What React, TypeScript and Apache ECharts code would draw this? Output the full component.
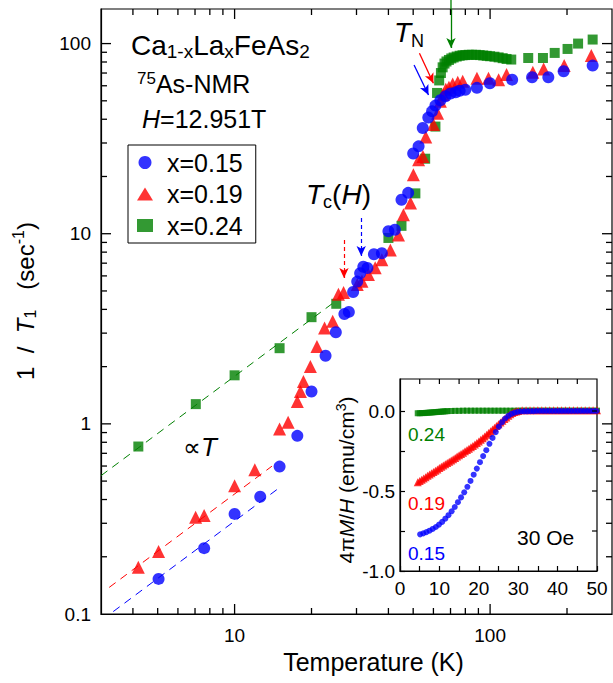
import { useEffect, useRef } from 'react';
import * as echarts from 'echarts';

const FONT = '"Liberation Sans", Arial, Helvetica, sans-serif';
const BLUE = '#0000ff';
const RED = '#ff0000';
const GREEN = '#008000';

// ---- main axes ----
const T_MIN = 3;
const T_MAX = 300;
const R_MIN = 0.1;
const R_MAX = 152;

const xMajorTicks = [10, 100];
const xMinorTicks = [4, 5, 6, 7, 8, 9, 20, 30, 40, 50, 60, 70, 80, 90, 200];
const yMajorTicks = [1, 10, 100];
const yMinorTicks = [0.2, 0.3, 0.4, 0.5, 0.6, 0.7, 0.8, 0.9, 2, 3, 4, 5, 6, 7, 8, 9, 20, 30, 40, 50, 60, 70, 80, 90];

// ---- inset axes ----
const INSET_T_MIN = 0;
const INSET_T_MAX = 50;
const INSET_M_MIN = -1;
const INSET_M_MAX = 0.2;
const insetXTicks = [5, 10, 15, 20, 25, 30, 35, 40, 45];
const insetYTicks = [-0.75, -0.5, -0.25, 0];

// ---- 1/T1 data [T (K), 1/T1 (1/s)] ----
const blueData = [
  [5.04, 0.153], [7.6, 0.222], [10, 0.336], [12.6, 0.414], [15, 0.596], [17.6, 0.865], [20, 1.48],
  [22.7, 2.28], [24.9, 3.03], [26.9, 3.78], [28, 3.88], [29.1, 4.94], [30.2, 5.6], [31, 6.2],
  [31.9, 6.7], [33.1, 6.6], [35.1, 7.8], [37.7, 7.9], [40, 10.3], [42.4, 10.5], [45, 15.1],
  [47.8, 16.4], [50, 26.4], [52.5, 28.8], [54.5, 36], [57.3, 40.8], [59.3, 44], [61.1, 47.2],
  [63.9, 50.3], [66.9, 52.8], [70, 54.6], [73.3, 55.4], [76, 56.5], [80, 57.2], [88.8, 58.5],
  [99.8, 61.8], [122, 64.6], [146, 66.5], [169, 66.5], [194, 71.5], [252, 76.6],
];
const redData = [
  [4.2, 0.176], [5.04, 0.213], [7.04, 0.323], [7.6, 0.33], [10, 0.472], [12, 0.573], [15, 0.94],
  [16.2, 1.02], [17.6, 1.31], [18.1, 1.48], [18.6, 1.67], [19.8, 2.0], [21, 2.55], [22.5, 3.19],
  [24.2, 3.46], [25.5, 4.8], [26.7, 4.9], [30.2, 5.4], [31.5, 5.62], [33.4, 6.1], [35.5, 6.62],
  [37.7, 7.3], [40.7, 8.2], [43.8, 9.84], [45.8, 12.6], [48.8, 14.5], [50.1, 20.4], [52.5, 24.5],
  [54.6, 25.5], [56, 32.3], [60, 37.5], [62.3, 43], [63.9, 49.7], [65.5, 54], [67.1, 57.5],
  [69, 59], [71.4, 61.2], [74.7, 62.6], [78.1, 63.3], [88.8, 65.7], [98.6, 65.7], [108, 64.6],
  [116, 68.7], [147, 70.6], [162, 73.5], [195, 76.6], [249, 86.5],
];
const greenData = [
  [4.2, 0.76], [7.05, 1.27], [10, 1.8], [15, 2.5], [20, 3.64], [25, 4.28], [40, 9.5], [45, 11],
  [51, 16.3], [55.7, 24.8], [61.1, 36.6], [62, 55], [63.2, 64], [64.2, 70], [65.2, 75], [66.3, 78.5],
  [67.5, 80.5], [69, 82], [70.5, 83.5], [72, 84.5], [74, 85.5], [76, 86.3], [78, 86.8], [80, 87],
  [82.5, 87.3], [85, 87.3], [88, 87.3], [91, 87], [94, 86.6], [97, 86.2], [100, 85.8], [104, 85.3],
  [108, 84.6], [112, 83.8], [116, 83], [121, 82.4], [141, 84], [161, 84], [179, 89.3], [201, 93.7],
  [221, 100], [252, 105],
];

// ---- linear-in-T guide lines (dashed) ----
const blueFit = [[3.35, 0.103], [14.7, 0.453]];
const redFit = [[3.23, 0.138], [14.0, 0.599]];
const greenFit = [[3.0, 0.534], [24.4, 4.34]];

// ---- annotation arrows in data coordinates ----
const arrowMarks = [
  { from: [70.3, 151.9], to: [70.3, 94.8], color: GREEN, dashed: false },
  { from: [52.9, 88.9], to: [60.0, 61.8], color: RED, dashed: false },
  { from: [50.4, 77.1], to: [57.4, 53.6], color: BLUE, dashed: false },
  { from: [26.8, 9.26], to: [26.8, 5.85], color: RED, dashed: true },
  { from: [31.3, 12.1], to: [31.3, 7.63], color: BLUE, dashed: true },
];

// ---- inset: 4πM/H vs T ----
const insetBlue = [
  [5.1, -0.771], [5.9, -0.765], [6.7, -0.757], [7.5, -0.748], [8.3, -0.737], [9.1, -0.725],
  [9.9, -0.71], [10.7, -0.693], [11.5, -0.673], [12.3, -0.651], [13.1, -0.627], [13.9, -0.6],
  [14.7, -0.57], [15.5, -0.54], [16.3, -0.508], [17.1, -0.474], [17.9, -0.437], [18.7, -0.398],
  [19.5, -0.36], [20.3, -0.32], [21.1, -0.282], [21.9, -0.245], [22.7, -0.205], [23.5, -0.168],
  [24.3, -0.132], [25.1, -0.098], [25.9, -0.07], [26.7, -0.047], [27.5, -0.03], [28.3, -0.018],
  [29.1, -0.01], [29.9, -0.005], [30.7, -0.003], [31.5, -0.002], [32.3, -0.002], [33.1, -0.001],
  [33.9, -0.001], [34.7, 0], [35.5, 0], [36.3, 0], [37.1, 0], [37.9, 0], [38.7, 0], [39.5, 0],
  [40.3, 0], [41.1, 0], [41.9, 0], [42.7, 0], [43.5, 0], [44.3, 0], [45.1, 0], [45.9, 0],
  [46.7, 0], [47.5, 0], [48.3, 0], [49.1, 0], [49.9, 0],
];
const insetRed = [
  [4.5, -0.445], [5, -0.437], [5.5, -0.43], [6, -0.422], [6.5, -0.414], [7, -0.405], [7.5, -0.397],
  [8, -0.389], [8.5, -0.381], [9, -0.373], [9.5, -0.365], [10, -0.357], [10.5, -0.349], [11, -0.341],
  [11.5, -0.333], [12, -0.325], [12.5, -0.317], [13, -0.309], [13.5, -0.301], [14, -0.293],
  [14.5, -0.285], [15, -0.277], [15.5, -0.269], [16, -0.261], [16.5, -0.252], [17, -0.244],
  [17.5, -0.236], [18, -0.227], [18.5, -0.218], [19, -0.209], [19.5, -0.2], [20, -0.19],
  [20.5, -0.18], [21, -0.17], [21.5, -0.16], [22, -0.149], [22.5, -0.138], [23, -0.127],
  [23.5, -0.116], [24, -0.105], [24.5, -0.094], [25, -0.083], [25.5, -0.072], [26, -0.061],
  [26.5, -0.05], [27, -0.04], [27.5, -0.03], [28, -0.021], [28.5, -0.013], [29, -0.007],
  [29.5, -0.003], [30, 0], [31, 0.004], [32, 0.004], [33, 0.004], [34, 0.004], [35, 0.004],
  [36, 0.004], [37, 0.004], [38, 0.004], [39, 0.004], [40, 0.004], [41, 0.004], [42, 0.004],
  [43, 0.004], [44, 0.004], [45, 0.004], [46, 0.004], [47, 0.004], [48, 0.004], [49, 0.004], [50, 0.004],
];
const insetGreen = [
  [4.5, -0.014], [5, -0.014], [5.5, -0.013], [6, -0.013], [6.5, -0.012], [7, -0.011], [7.5, -0.01],
  [8, -0.009], [8.5, -0.008], [9, -0.007], [9.5, -0.006], [10, -0.005], [10.5, -0.004], [11, -0.003],
  [11.5, -0.002], [12, -0.001], [13, 0], [14, 0.001], [15, 0.001], [16, 0.002], [17, 0.002],
  [18, 0.002], [19, 0.002], [20, 0.002], [21, 0.002], [22, 0.002], [23, 0.002], [24, 0.002],
  [25, 0.002], [26, 0.002], [27, 0.002], [28, 0.002], [29, 0.002], [30, 0.002], [31, 0.002],
  [32, 0.002], [33, 0.002], [34, 0.002], [35, 0.002], [36, 0.002], [37, 0.002], [38, 0.002],
  [39, 0.002], [40, 0.002], [41, 0.002], [42, 0.002], [43, 0.002], [44, 0.002], [45, 0.002],
  [46, 0.002], [47, 0.002], [48, 0.002], [49, 0.002], [50, 0.002],
];

const legendNames = ['x=0.15', 'x=0.19', 'x=0.24'];

function rs(size: number, italic = false, extra: Record<string, unknown> = {}) {
  return { fontSize: size, fontFamily: FONT, fontStyle: italic ? 'italic' : 'normal', fill: '#000', ...extra };
}

function textEl(x: number, y: number, text: string, rich: Record<string, unknown>, opts: Record<string, unknown> = {}) {
  const { align = 'left', rotation = 0, fill = '#000', size = 20 } = opts as any;
  return {
    type: 'text', x, y, rotation, z: 100, silent: true,
    style: { text, rich, fontSize: size, fontFamily: FONT, fill, textAlign: align, textVerticalAlign: 'middle' },
  };
}

function logLabel(v: number) {
  const l = Math.log10(v);
  const r = Math.round(l);
  if (Math.abs(l - r) > 1e-6) return '';
  return r < 0 ? '0.1' : String(Math.pow(10, r));
}

function insetYLabel(v: number) {
  const k = Math.round(v * 2);
  if (Math.abs(v * 2 - k) > 1e-6 || v > 0.01) return '';
  return (k / 2).toFixed(1);
}

const AX_LINE = { color: '#000', width: 1.2 };

function seg(x1: number, y1: number, x2: number, y2: number, stroke: string, w: number) {
  return { type: 'line', z: 100, silent: true, shape: { x1, y1, x2, y2 }, style: { stroke, lineWidth: w } };
}

// Texts, plus tick marks and the arrow stem placed through the chart's own scales (convertToPixel).
function buildGraphics(chart: any) {
  const px = (a: number, v: number) => chart.convertToPixel({ xAxisIndex: a }, v) as number;
  const py = (a: number, v: number) => chart.convertToPixel({ yAxisIndex: a }, v) as number;
  const out: any[] = [
    textEl(131, 45, '{m|Ca}{s|1-x}{m|La}{s|x}{m|FeAs}{s|2}', { m: rs(28), s: rs(19, false, { padding: [12, 0, 0, 0] }) }),
    textEl(137, 84, '{p|75}{m|As-NMR}', { p: rs(17, false, { padding: [0, 0, 12, 0] }), m: rs(25) }),
    textEl(142, 119, '{i|H}{m|=12.951T}', { i: rs(25, true), m: rs(25) }),
    textEl(394, 32, '{i|T}{s|N}', { i: rs(28, true), s: rs(18, false, { padding: [17, 0, 0, 0] }) }),
    textEl(306, 194, '{i|T}{s|c}{m|(}{i|H}{m|)}', { i: rs(28, true), m: rs(28), s: rs(18, false, { padding: [16, 0, 0, 0] }) }),
    textEl(183, 447, '{m|∝}{i|T}', { m: rs(25), i: rs(26, true) }),
    textEl(373.5, 662, 'Temperature (K)', {}, { align: 'center', size: 25 }),
    textEl(25, 301, '{m|1  /  }{i|T}{s|1}{m|   (sec}{p|-1}{m|)}', {
      m: rs(24), i: rs(24, true), s: rs(16, false, { padding: [10, 0, 0, 0] }), p: rs(16, false, { padding: [0, 0, 13, 0] }),
    }, { align: 'center', rotation: Math.PI / 2 }),
    textEl(346, 480, '{m|4π}{i|M}{m|/}{i|H}{m| (emu/cm}{p|3}{m|)}', {
      m: rs(21), i: rs(21, true), p: rs(14, false, { padding: [0, 0, 10, 0] }),
    }, { align: 'center', rotation: Math.PI / 2 }),
    textEl(408, 434, '0.24', {}, { fill: GREEN, size: 19 }),
    textEl(408, 503, '0.19', {}, { fill: RED, size: 19 }),
    textEl(408, 553, '0.15', {}, { fill: BLUE, size: 19 }),
    textEl(517, 537, '30 Oe', {}, { size: 21 }),
  ];

  // main frame ticks (log minor ticks at 2..9 of each decade)
  const yb = py(0, R_MIN);
  const yt = py(0, R_MAX);
  const xl = px(0, T_MIN);
  const xr = px(0, T_MAX);
  const xs = [...xMajorTicks.map((v) => [v, 10]), ...xMinorTicks.map((v) => [v, 6])];
  const ys = [...yMajorTicks.map((v) => [v, 10]), ...yMinorTicks.map((v) => [v, 6])];
  xs.forEach(([v, len]) => {
    const x = px(0, v);
    out.push(seg(x, yb, x, yb - len, '#000', 1.3));
    out.push(seg(x, yt, x, yt + len, '#000', 1.3));
  });
  ys.forEach(([v, len]) => {
    const y = py(0, v);
    out.push(seg(xl, y, xl + len, y, '#000', 1.3));
    out.push(seg(xr, y, xr - len, y, '#000', 1.3));
  });

  // inset top / right mirror ticks
  const it = py(1, INSET_M_MAX);
  const ir = px(1, INSET_T_MAX);
  insetXTicks.forEach((v) => {
    const x = px(1, v);
    out.push(seg(x, it, x, it + 5, '#000', 1.2));
  });
  insetYTicks.forEach((v) => {
    const y = py(1, v);
    out.push(seg(ir, y, ir - 5, y, '#000', 1.2));
  });

  // green T_N arrow stem above the frame
  const sx = px(0, arrowMarks[0].from[0]);
  const sy = py(0, arrowMarks[0].from[1]);
  out.push(seg(sx, 0, sx, sy, GREEN, 1.3));
  return out;
}

function buildOption() {
  const labelStyle = { fontSize: 19, fontFamily: FONT, color: '#000' };
  const line = { show: true, onZero: false, lineStyle: AX_LINE };
  const tick = { show: true, inside: true, length: 5, lineStyle: { color: '#000', width: 1.2 } };
  return {
    animation: false,
    backgroundColor: '#fff',
    grid: [
      { left: 101, top: 9, width: 511, height: 605, show: true, borderColor: '#000', borderWidth: 1.2, backgroundColor: 'transparent', containLabel: false, outerBoundsMode: 'none' },
      { left: 400, top: 379, width: 197, height: 192, show: true, borderColor: '#000', borderWidth: 1.2, backgroundColor: '#fff', containLabel: false, outerBoundsMode: 'none' },
    ],
    legend: {
      orient: 'vertical', left: 128, top: 145, padding: [5, 13, 5, 9], itemGap: 6.5, itemWidth: 16, itemHeight: 13,
      borderColor: '#000', borderWidth: 1, backgroundColor: '#fff', selectedMode: false,
      textStyle: { fontSize: 25, fontFamily: FONT, color: '#000', padding: [0, 0, 0, 9] },
      data: [
        { name: legendNames[0], icon: 'circle' },
        { name: legendNames[1], icon: 'triangle' },
        { name: legendNames[2], icon: 'rect' },
      ],
    },
    xAxis: [
      {
        gridIndex: 0, type: 'log', logBase: 10, min: T_MIN, max: T_MAX, position: 'bottom',
        axisLine: line, axisTick: { show: false }, minorTick: { show: false }, splitLine: { show: false },
        axisLabel: { ...labelStyle, margin: 12, formatter: logLabel, hideOverlap: false },
      },
      {
        gridIndex: 1, type: 'value', min: INSET_T_MIN, max: INSET_T_MAX, interval: 10, position: 'bottom',
        axisLine: line, axisTick: tick,
        minorTick: { show: true, splitNumber: 2, length: 5, lineStyle: { color: '#000', width: 1.2 } },
        splitLine: { show: false }, minorSplitLine: { show: false },
        axisLabel: { ...labelStyle, margin: 8 },
      },
    ],
    yAxis: [
      {
        gridIndex: 0, type: 'log', logBase: 10, min: R_MIN, max: R_MAX, position: 'left',
        axisLine: line, axisTick: { show: false }, minorTick: { show: false }, splitLine: { show: false },
        axisLabel: { ...labelStyle, margin: 10, formatter: logLabel, hideOverlap: false },
      },
      {
        gridIndex: 1, type: 'value', min: INSET_M_MIN, max: INSET_M_MAX, interval: 0.25, position: 'left',
        axisLine: line, axisTick: tick, splitLine: { show: false },
        axisLabel: { ...labelStyle, margin: 5, formatter: insetYLabel, showMaxLabel: false },
      },
    ],
    series: [
      ...[
        { d: greenFit, c: GREEN },
        { d: redFit, c: RED },
        { d: blueFit, c: BLUE },
      ].map((f) => ({
        type: 'line', xAxisIndex: 0, yAxisIndex: 0, data: f.d, symbol: 'none', showSymbol: false, silent: true,
        lineStyle: { color: f.c, width: 1, type: [8, 6] }, emphasis: { disabled: true }, z: 1,
      })),
      { name: legendNames[2], type: 'scatter', xAxisIndex: 0, yAxisIndex: 0, data: greenData, symbol: 'rect', symbolSize: 10, itemStyle: { color: GREEN }, emphasis: { disabled: true }, z: 2 },
      { name: legendNames[1], type: 'scatter', xAxisIndex: 0, yAxisIndex: 0, data: redData, symbol: 'triangle', symbolSize: 13, itemStyle: { color: RED }, emphasis: { disabled: true }, z: 2 },
      { name: legendNames[0], type: 'scatter', xAxisIndex: 0, yAxisIndex: 0, data: blueData, symbol: 'circle', symbolSize: 12, itemStyle: { color: BLUE }, emphasis: { disabled: true }, z: 2 },
      { name: 'inset 0.24', type: 'scatter', xAxisIndex: 1, yAxisIndex: 1, data: insetGreen, symbol: 'rect', symbolSize: 6, itemStyle: { color: GREEN }, emphasis: { disabled: true }, z: 3 },
      { name: 'inset 0.19', type: 'scatter', xAxisIndex: 1, yAxisIndex: 1, data: insetRed, symbol: 'triangle', symbolSize: 8, itemStyle: { color: RED }, emphasis: { disabled: true }, z: 3 },
      { name: 'inset 0.15', type: 'scatter', xAxisIndex: 1, yAxisIndex: 1, data: insetBlue, symbol: 'circle', symbolSize: 6, itemStyle: { color: BLUE }, emphasis: { disabled: true }, z: 3 },
      {
        type: 'line', xAxisIndex: 0, yAxisIndex: 0, data: [], clip: false, silent: true, z: 6,
        markLine: {
          silent: true, animation: false, symbol: ['none', 'arrow'], symbolSize: [7, 10],
          label: { show: false }, emphasis: { disabled: true },
          data: arrowMarks.map((a) => [
            { coord: a.from, lineStyle: { color: a.color, width: a.dashed ? 1.2 : 1.3, type: a.dashed ? [4, 3] : 'solid' } },
            { coord: a.to },
          ]),
        },
      },
    ],
  };
}

export default function App() {
  const ref = useRef<HTMLDivElement>(null);
  useEffect(() => {
    if (!ref.current) return;
    const chart = echarts.init(ref.current, null, { renderer: 'svg' });
    chart.setOption(buildOption() as any);
    chart.setOption({ graphic: buildGraphics(chart) } as any);
    return () => chart.dispose();
  }, []);
  return <div ref={ref} style={{ position: 'fixed', left: 0, top: 0, width: 613, height: 683, background: '#fff' }} />;
}
